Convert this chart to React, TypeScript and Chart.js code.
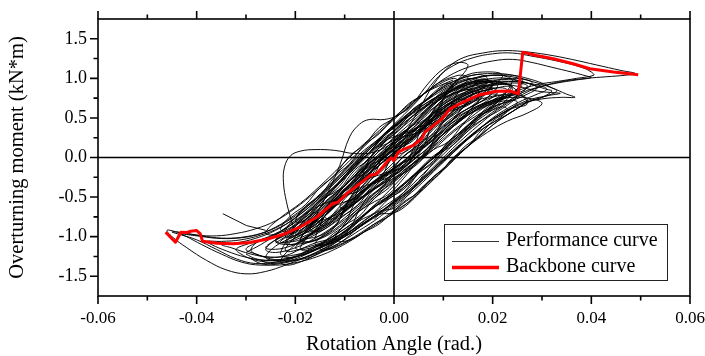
import { useEffect, useRef } from 'react';
import { Chart, registerables } from 'chart.js';

Chart.register(...registerables);

const FONT = '"Liberation Serif", "Times New Roman", serif';

// Axis ticks
const xTicks = [-0.06, -0.04, -0.02, 0, 0.02, 0.04, 0.06];
const xMinorTicks = [-0.05, -0.03, -0.01, 0.01, 0.03, 0.05];
const yTicks = [-1.5, -1.0, -0.5, 0, 0.5, 1.0, 1.5];
const yMinorTicks = [-1.25, -0.75, -0.25, 0.25, 0.75, 1.25];

// Backbone curve (rotation rad., moment kN*m)
const backboneRotation = [-0.0463, -0.0443, -0.0432, -0.042, -0.0412, -0.04, -0.0393, -0.0388, -0.0359, -0.0326, -0.0292, -0.0258, -0.0225, -0.0191, -0.0157, -0.0124, -0.0114, -0.0096, -0.0065, -0.0049, -0.0035, -0.0022, -0.0012, -0.0005, -0.0001, 0.0009, 0.0022, 0.0039, 0.0056, 0.0063, 0.0076, 0.0097, 0.0114, 0.014, 0.0174, 0.0208, 0.0235, 0.0252, 0.0261, 0.0289, 0.0323, 0.0363, 0.0397, 0.0445, 0.0495];
const backboneMoment = [-0.944, -1.071, -0.944, -0.948, -0.932, -0.923, -0.961, -1.058, -1.083, -1.091, -1.075, -1.033, -0.973, -0.881, -0.755, -0.581, -0.565, -0.459, -0.31, -0.228, -0.206, -0.114, -0.038, -0.004, -0.038, 0.067, 0.11, 0.152, 0.237, 0.32, 0.383, 0.489, 0.616, 0.701, 0.794, 0.836, 0.84, 0.806, 1.331, 1.289, 1.247, 1.184, 1.122, 1.08, 1.047];

// Performance curve: hysteresis loops [rotation, moment]
const perfLoopsA = [
  [0.0, 0.0], [0.004, 0.26], [0.008, 0.52], [0.011, 0.68], [0.0125, 0.66],
  [0.01, 0.46], [0.006, 0.18], [0.002, -0.04], [-0.002, -0.22], [-0.006, -0.42], [-0.009, -0.6], [-0.0105, -0.66],
  [-0.008, -0.44], [-0.004, -0.12], [0.0, 0.12], [0.004, 0.32], [0.008, 0.58], [0.012, 0.78], [0.015, 0.86], [0.016, 0.82],
  [0.013, 0.56], [0.009, 0.3], [0.005, 0.08], [0.001, -0.14], [-0.003, -0.34], [-0.007, -0.52], [-0.011, -0.72], [-0.014, -0.86], [-0.015, -0.84],
  [-0.012, -0.58], [-0.008, -0.28], [-0.004, 0.02], [0.0, 0.24], [0.004, 0.42], [0.008, 0.66], [0.012, 0.86], [0.016, 0.96], [0.019, 0.98], [0.02, 0.94],
  [0.017, 0.7], [0.013, 0.46], [0.009, 0.2], [0.005, -0.02], [0.001, -0.24], [-0.003, -0.44], [-0.007, -0.64], [-0.011, -0.86], [-0.015, -1.02], [-0.018, -1.08], [-0.019, -1.04],
  [-0.016, -0.78], [-0.012, -0.5], [-0.008, -0.2], [-0.004, 0.06], [0.0, 0.3], [0.004, 0.5], [0.008, 0.72], [0.012, 0.9], [0.016, 1.0], [0.02, 1.04], [0.023, 1.02], [0.024, 0.96],
  [0.021, 0.7], [0.017, 0.5], [0.013, 0.3], [0.009, 0.06], [0.005, -0.16], [0.001, -0.38], [-0.003, -0.58], [-0.007, -0.78], [-0.011, -0.98], [-0.015, -1.14], [-0.019, -1.24], [-0.022, -1.26], [-0.023, -1.2],
  [-0.02, -0.92], [-0.016, -0.66], [-0.012, -0.38], [-0.008, -0.1], [-0.004, 0.16], [0.0, 0.38], [0.004, 0.58], [0.008, 0.8], [0.012, 0.96], [0.016, 1.04], [0.02, 1.06], [0.024, 1.04], [0.026, 0.98],
  [0.023, 0.74], [0.019, 0.56], [0.015, 0.38], [0.011, 0.16], [0.007, -0.06], [0.003, -0.28], [-0.001, -0.48], [-0.005, -0.68], [-0.009, -0.88], [-0.013, -1.06], [-0.017, -1.2], [-0.021, -1.3], [-0.025, -1.34], [-0.027, -1.3],
];

const perfLoopsNarrow = [
  [-0.02, -0.98], [-0.017, -0.82], [-0.013, -0.6], [-0.009, -0.36], [-0.005, -0.14], [-0.001, 0.06], [0.003, 0.22], [0.007, 0.44], [0.011, 0.64], [0.015, 0.78], [0.019, 0.86], [0.022, 0.88], [0.023, 0.84],
  [0.02, 0.7], [0.016, 0.58], [0.012, 0.42], [0.008, 0.22], [0.004, 0.02], [0.0, -0.14], [-0.004, -0.32], [-0.008, -0.5], [-0.012, -0.7], [-0.016, -0.88], [-0.02, -1.02], [-0.023, -1.08], [-0.024, -1.04],
  [-0.021, -0.9], [-0.017, -0.74], [-0.013, -0.52], [-0.009, -0.3], [-0.005, -0.1], [-0.001, 0.1], [0.003, 0.28], [0.007, 0.5], [0.011, 0.68], [0.015, 0.8], [0.019, 0.88], [0.0205, 0.86],
  [0.018, 0.72], [0.014, 0.58], [0.01, 0.38], [0.006, 0.16], [0.002, -0.04], [-0.002, -0.22], [-0.006, -0.4], [-0.01, -0.62], [-0.014, -0.82], [-0.017, -0.94], [-0.018, -0.92],
  [-0.015, -0.76], [-0.011, -0.52], [-0.007, -0.28], [-0.003, -0.06], [0.001, 0.14], [0.005, 0.32], [0.009, 0.56], [0.013, 0.74], [0.017, 0.86], [0.021, 0.92], [0.025, 0.94], [0.027, 0.9],
  [0.024, 0.74], [0.02, 0.64], [0.016, 0.5], [0.012, 0.32], [0.008, 0.1], [0.004, -0.1], [0.0, -0.28], [-0.004, -0.46], [-0.008, -0.66], [-0.012, -0.86], [-0.016, -1.02], [-0.02, -1.14], [-0.024, -1.2], [-0.026, -1.16],
  [-0.023, -1.0], [-0.019, -0.86], [-0.015, -0.66], [-0.011, -0.42], [-0.007, -0.18], [-0.003, 0.04], [0.001, 0.22], [0.005, 0.4], [0.009, 0.62], [0.013, 0.78], [0.017, 0.88], [0.021, 0.92], [0.024, 0.9],
  [0.021, 0.76], [0.017, 0.62], [0.013, 0.44], [0.009, 0.24], [0.005, 0.02], [0.001, -0.18], [-0.003, -0.36], [-0.007, -0.54], [-0.011, -0.74], [-0.015, -0.92], [-0.019, -1.04], [-0.021, -1.06],
  [-0.018, -0.94], [-0.014, -0.74], [-0.01, -0.5], [-0.006, -0.26], [-0.002, -0.04], [0.002, 0.16], [0.006, 0.36], [0.01, 0.58], [0.014, 0.74], [0.018, 0.84], [0.02, 0.86],
];

const perfLoopsLower = [
  [-0.012, -0.98], [-0.009, -0.86], [-0.005, -0.66], [-0.001, -0.42], [0.003, -0.16], [0.007, 0.1], [0.011, 0.36], [0.015, 0.56], [0.019, 0.7], [0.023, 0.78], [0.026, 0.78], [0.027, 0.72],
  [0.024, 0.58], [0.02, 0.44], [0.016, 0.28], [0.012, 0.06], [0.008, -0.16], [0.004, -0.38], [0.0, -0.56], [-0.004, -0.74], [-0.008, -0.92], [-0.012, -1.06], [-0.015, -1.12], [-0.016, -1.08],
  [-0.013, -0.92], [-0.009, -0.74], [-0.005, -0.52], [-0.001, -0.28], [0.003, -0.04], [0.007, 0.22], [0.011, 0.46], [0.015, 0.62], [0.019, 0.74], [0.023, 0.8], [0.025, 0.78],
  [0.022, 0.62], [0.018, 0.48], [0.014, 0.32], [0.01, 0.1], [0.006, -0.12], [0.002, -0.34], [-0.002, -0.54], [-0.006, -0.72], [-0.01, -0.9], [-0.014, -1.06], [-0.018, -1.16], [-0.02, -1.14],
  [-0.017, -0.98], [-0.013, -0.8], [-0.009, -0.58], [-0.005, -0.36], [-0.001, -0.12], [0.003, 0.12], [0.007, 0.34], [0.011, 0.54], [0.015, 0.68], [0.019, 0.76], [0.022, 0.78],
  [0.019, 0.6], [0.015, 0.4], [0.011, 0.14], [0.007, -0.14], [0.003, -0.46], [0.0, -0.64], [-0.003, -0.68], [-0.007, -0.84], [-0.011, -1.04], [-0.015, -1.2], [-0.019, -1.32], [-0.022, -1.36], [-0.023, -1.3],
  [-0.02, -1.1], [-0.016, -0.92], [-0.012, -0.72], [-0.008, -0.5], [-0.004, -0.3], [0.0, -0.1], [0.004, 0.12], [0.008, 0.3], [0.012, 0.48], [0.016, 0.62], [0.02, 0.72], [0.024, 0.76], [0.028, 0.74], [0.03, 0.68],
  [0.027, 0.56], [0.023, 0.46], [0.019, 0.32], [0.015, 0.14], [0.011, -0.08], [0.007, -0.32], [0.003, -0.58], [0.0, -0.7], [-0.003, -0.72], [-0.007, -0.88], [-0.011, -1.08], [-0.014, -1.16], [-0.015, -1.1],
];

const perfLoopsUpper = [
  [0.012, 0.98], [0.01, 0.92], [0.006, 0.7], [0.002, 0.46], [-0.002, 0.22], [-0.006, 0.0], [-0.01, -0.26], [-0.014, -0.52], [-0.018, -0.76], [-0.022, -0.92], [-0.025, -0.98], [-0.026, -0.94],
  [-0.023, -0.76], [-0.019, -0.58], [-0.015, -0.36], [-0.011, -0.12], [-0.007, 0.12], [-0.003, 0.34], [0.001, 0.56], [0.005, 0.76], [0.009, 0.92], [0.012, 1.0], [0.013, 0.96],
  [0.01, 0.8], [0.006, 0.58], [0.002, 0.36], [-0.002, 0.14], [-0.006, -0.1], [-0.01, -0.36], [-0.014, -0.62], [-0.018, -0.84], [-0.021, -0.96], [-0.022, -0.92],
  [-0.019, -0.7], [-0.015, -0.48], [-0.011, -0.22], [-0.007, 0.04], [-0.003, 0.24], [0.001, 0.46], [0.005, 0.66], [0.009, 0.84], [0.013, 0.96], [0.016, 1.0], [0.017, 0.96],
  [0.014, 0.8], [0.01, 0.62], [0.006, 0.4], [0.002, 0.18], [-0.002, -0.04], [-0.006, -0.26], [-0.01, -0.5], [-0.014, -0.74], [-0.016, -0.86], [-0.017, -0.88],
  [-0.014, -0.52], [-0.011, -0.1], [-0.009, 0.26], [-0.007, 0.42], [-0.005, 0.48], [-0.002, 0.48], [0.001, 0.54], [0.004, 0.7], [0.007, 0.94], [0.01, 1.12], [0.013, 1.2], [0.015, 1.16],
  [0.012, 0.92], [0.008, 0.66], [0.004, 0.42], [0.0, 0.2], [-0.004, 0.07], [-0.008, 0.05], [-0.012, 0.09], [-0.016, 0.1], [-0.019, 0.08], [-0.021, 0.02], [-0.0222, -0.12], [-0.0224, -0.32], [-0.0218, -0.56], [-0.0208, -0.8], [-0.0202, -0.94], [-0.021, -1.02],
  [-0.018, -0.9], [-0.014, -0.66], [-0.01, -0.4], [-0.006, -0.14], [-0.002, 0.1], [0.002, 0.32], [0.006, 0.56], [0.01, 0.78], [0.014, 0.92], [0.018, 0.98], [0.02, 0.96],
];

const perfLoopsLarge = [
  [-0.018, -0.95], [-0.014, -0.74], [-0.01, -0.48], [-0.006, -0.22], [-0.002, 0.04], [0.002, 0.3], [0.005, 0.6], [0.008, 0.92], [0.011, 1.14], [0.014, 1.26], [0.018, 1.32], [0.022, 1.35], [0.026, 1.34], [0.031, 1.3], [0.036, 1.24], [0.041, 1.17], [0.046, 1.1], [0.049, 1.06],
  [0.047, 1.04], [0.043, 1.02], [0.039, 1.0], [0.034, 0.96], [0.03, 0.9], [0.026, 0.82], [0.022, 0.66], [0.018, 0.48], [0.014, 0.28], [0.01, 0.04], [0.006, -0.2], [0.002, -0.44], [-0.002, -0.62], [-0.006, -0.8], [-0.01, -0.98], [-0.014, -1.14], [-0.018, -1.26], [-0.022, -1.36], [-0.026, -1.44], [-0.03, -1.47], [-0.034, -1.42], [-0.038, -1.3], [-0.042, -1.14], [-0.045, -1.0], [-0.046, -0.92],
  [-0.044, -0.94], [-0.04, -0.98], [-0.036, -0.99], [-0.032, -0.96], [-0.028, -0.9], [-0.024, -0.8], [-0.02, -0.64], [-0.016, -0.44], [-0.012, -0.22], [-0.008, 0.02], [-0.004, 0.26], [0.0, 0.48], [0.004, 0.7], [0.008, 0.9], [0.012, 1.06], [0.016, 1.16], [0.02, 1.22], [0.024, 1.24], [0.028, 1.2], [0.032, 1.14], [0.036, 1.08], [0.039, 1.03], [0.04, 1.01],
  [0.037, 0.98], [0.033, 0.94], [0.029, 0.88], [0.025, 0.76], [0.021, 0.6], [0.017, 0.4], [0.013, 0.18], [0.009, -0.06], [0.005, -0.3], [0.001, -0.52], [-0.003, -0.7], [-0.007, -0.88], [-0.011, -1.04], [-0.015, -1.18], [-0.019, -1.28], [-0.023, -1.34], [-0.027, -1.36], [-0.031, -1.32], [-0.035, -1.22], [-0.039, -1.1], [-0.042, -1.0], [-0.043, -0.97],
  [-0.04, -0.99], [-0.036, -1.02], [-0.032, -1.02], [-0.028, -0.98], [-0.024, -0.88], [-0.02, -0.72], [-0.016, -0.52], [-0.012, -0.28], [-0.008, -0.04], [-0.004, 0.18], [0.0, 0.4], [0.004, 0.6], [0.008, 0.78], [0.012, 0.92], [0.016, 1.0], [0.02, 1.04], [0.024, 1.02], [0.028, 0.96], [0.032, 0.88], [0.035, 0.8], [0.0367, 0.76],
  [0.034, 0.76], [0.03, 0.74], [0.026, 0.68], [0.022, 0.56], [0.018, 0.4], [0.014, 0.2], [0.01, -0.02], [0.006, -0.26], [0.002, -0.5], [-0.002, -0.68], [-0.006, -0.84], [-0.01, -1.0], [-0.014, -1.12], [-0.018, -1.22], [-0.022, -1.28], [-0.026, -1.3], [-0.03, -1.26], [-0.034, -1.18], [-0.037, -1.1], [-0.038, -1.06],
  [-0.035, -1.06], [-0.031, -1.04], [-0.027, -0.98], [-0.023, -0.88], [-0.019, -0.72], [-0.015, -0.5], [-0.011, -0.26], [-0.007, -0.02], [-0.003, 0.22], [0.001, 0.44], [0.005, 0.62], [0.009, 0.78], [0.013, 0.88], [0.017, 0.94], [0.021, 0.94], [0.025, 0.9], [0.029, 0.84], [0.032, 0.82], [0.0337, 0.81],
  [0.031, 0.78], [0.027, 0.72], [0.023, 0.6], [0.019, 0.44], [0.015, 0.24], [0.011, 0.02], [0.007, -0.22], [0.003, -0.44], [-0.001, -0.62], [-0.005, -0.78], [-0.009, -0.94], [-0.013, -1.08], [-0.017, -1.18], [-0.021, -1.24], [-0.025, -1.26], [-0.029, -1.22], [-0.033, -1.14], [-0.035, -1.1],
  [-0.032, -1.08], [-0.028, -1.02], [-0.024, -0.92], [-0.02, -0.76], [-0.016, -0.56], [-0.012, -0.32], [-0.008, -0.08], [-0.004, 0.16], [0.0, 0.38], [0.004, 0.58], [0.008, 0.74], [0.012, 0.86], [0.016, 0.94], [0.02, 0.96], [0.023, 0.92], [0.025, 0.84], [0.027, 0.68],
  [0.024, 0.62], [0.02, 0.48], [0.016, 0.3], [0.012, 0.08], [0.008, -0.14], [0.004, -0.36], [0.0, -0.56], [-0.004, -0.74], [-0.008, -0.9], [-0.012, -1.04], [-0.016, -1.16], [-0.02, -1.26], [-0.024, -1.32], [-0.028, -1.34], [-0.032, -1.28], [-0.036, -1.16], [-0.04, -1.04], [-0.043, -0.98], [-0.045, -0.94],
  [-0.042, -0.96], [-0.038, -1.0], [-0.034, -1.02], [-0.03, -1.0], [-0.026, -0.94], [-0.022, -0.82], [-0.018, -0.64], [-0.014, -0.42], [-0.01, -0.18], [-0.006, 0.06], [-0.002, 0.3], [0.002, 0.54], [0.006, 0.8], [0.009, 1.02], [0.012, 1.16], [0.016, 1.26], [0.02, 1.31], [0.024, 1.32], [0.028, 1.28], [0.033, 1.22], [0.038, 1.14], [0.04, 1.08], [0.0405, 1.04],
  [0.037, 1.0], [0.033, 0.96], [0.029, 0.92], [0.025, 0.84], [0.021, 0.7], [0.017, 0.52], [0.013, 0.3], [0.009, 0.06], [0.005, -0.18], [0.001, -0.4], [-0.003, -0.6],
];

const perfLoopsSmall1 = [
  [-0.008, -0.52], [-0.005, -0.3], [-0.002, -0.14], [0.001, 0.1], [0.004, 0.22], [0.007, 0.44], [0.01, 0.58], [0.012, 0.66], [0.013, 0.62],
  [0.011, 0.5], [0.008, 0.36], [0.005, 0.14], [0.002, 0.02], [-0.001, -0.18], [-0.004, -0.3], [-0.007, -0.5], [-0.01, -0.64], [-0.011, -0.62],
  [-0.009, -0.46], [-0.006, -0.34], [-0.003, -0.1], [0.0, 0.04], [0.003, 0.26], [0.006, 0.36], [0.009, 0.56], [0.012, 0.7], [0.014, 0.74], [0.015, 0.7],
  [0.013, 0.58], [0.01, 0.44], [0.007, 0.2], [0.004, 0.08], [0.001, -0.12], [-0.002, -0.26], [-0.005, -0.42], [-0.008, -0.58], [-0.011, -0.72], [-0.013, -0.78], [-0.014, -0.74],
  [-0.012, -0.6], [-0.009, -0.42], [-0.006, -0.3], [-0.003, -0.06], [0.0, 0.1], [0.003, 0.3], [0.006, 0.42], [0.009, 0.62], [0.012, 0.74], [0.015, 0.82], [0.017, 0.84], [0.018, 0.8],
  [0.016, 0.66], [0.013, 0.54], [0.01, 0.34], [0.007, 0.22], [0.004, 0.0], [0.001, -0.1], [-0.002, -0.32], [-0.005, -0.44], [-0.008, -0.64], [-0.011, -0.76], [-0.014, -0.9], [-0.016, -0.94], [-0.017, -0.9],
  [-0.015, -0.74], [-0.012, -0.58], [-0.009, -0.34], [-0.006, -0.2], [-0.003, 0.02], [0.0, 0.16], [0.003, 0.36], [0.006, 0.5], [0.009, 0.68], [0.012, 0.8], [0.015, 0.88], [0.018, 0.94], [0.02, 0.94], [0.021, 0.9],
  [0.019, 0.76], [0.016, 0.64], [0.013, 0.44], [0.01, 0.3], [0.007, 0.08], [0.004, -0.06], [0.001, -0.26], [-0.002, -0.4], [-0.005, -0.58], [-0.008, -0.72], [-0.011, -0.88], [-0.014, -1.0], [-0.017, -1.06], [-0.019, -1.04],
  [-0.017, -0.88], [-0.014, -0.7], [-0.011, -0.48], [-0.008, -0.32], [-0.005, -0.08], [-0.002, 0.06], [0.001, 0.26], [0.004, 0.38], [0.007, 0.58], [0.01, 0.7], [0.013, 0.84], [0.016, 0.9], [0.018, 0.92],
];

const perfLoopsSmall2 = [
  [0.004, 0.62], [0.001, 0.44], [-0.002, 0.3], [-0.005, 0.06], [-0.008, -0.1], [-0.011, -0.36], [-0.014, -0.52], [-0.017, -0.74], [-0.019, -0.82], [-0.02, -0.8],
  [-0.018, -0.62], [-0.015, -0.48], [-0.012, -0.24], [-0.009, -0.08], [-0.006, 0.16], [-0.003, 0.3], [0.0, 0.5], [0.003, 0.62], [0.006, 0.8], [0.009, 0.9], [0.011, 0.94], [0.012, 0.9],
  [0.01, 0.76], [0.007, 0.64], [0.004, 0.42], [0.001, 0.28], [-0.002, 0.06], [-0.005, -0.08], [-0.008, -0.3], [-0.011, -0.46], [-0.014, -0.66], [-0.017, -0.8], [-0.02, -0.92], [-0.022, -0.94], [-0.023, -0.9],
  [-0.021, -0.74], [-0.018, -0.6], [-0.015, -0.38], [-0.012, -0.22], [-0.009, 0.02], [-0.006, 0.16], [-0.003, 0.38], [0.0, 0.5], [0.003, 0.68], [0.006, 0.8], [0.009, 0.94], [0.012, 1.02], [0.014, 1.04], [0.015, 1.0],
  [0.013, 0.86], [0.01, 0.74], [0.007, 0.52], [0.004, 0.38], [0.001, 0.16], [-0.002, 0.02], [-0.005, -0.2], [-0.008, -0.36], [-0.011, -0.56], [-0.014, -0.7], [-0.017, -0.88], [-0.02, -0.98], [-0.022, -1.0],
  [-0.02, -0.84], [-0.017, -0.7], [-0.014, -0.48], [-0.011, -0.32], [-0.008, -0.08], [-0.005, 0.06], [-0.002, 0.28], [0.001, 0.42], [0.004, 0.62], [0.007, 0.74], [0.01, 0.9], [0.013, 0.98], [0.016, 1.04], [0.018, 1.04], [0.019, 0.98],
  [0.017, 0.84], [0.014, 0.72], [0.011, 0.52], [0.008, 0.38], [0.005, 0.16], [0.002, 0.02], [-0.001, -0.2], [-0.004, -0.34], [-0.007, -0.54], [-0.01, -0.66], [-0.013, -0.84], [-0.016, -0.94], [-0.019, -1.06], [-0.021, -1.1], [-0.022, -1.06],
  [-0.02, -0.92], [-0.017, -0.78], [-0.014, -0.56], [-0.011, -0.4], [-0.008, -0.16], [-0.005, -0.02], [-0.002, 0.2], [0.001, 0.34], [0.004, 0.54], [0.007, 0.68], [0.01, 0.84], [0.012, 0.9],
];

const perfLoopsSmall3 = [
  [-0.004, -0.78], [-0.001, -0.6], [0.002, -0.44], [0.005, -0.2], [0.008, -0.04], [0.011, 0.2], [0.014, 0.34], [0.017, 0.52], [0.02, 0.6], [0.022, 0.64], [0.023, 0.6],
  [0.021, 0.48], [0.018, 0.36], [0.015, 0.14], [0.012, 0.0], [0.009, -0.22], [0.006, -0.36], [0.003, -0.56], [0.0, -0.68], [-0.003, -0.84], [-0.006, -0.94], [-0.009, -1.04], [-0.011, -1.06], [-0.012, -1.02],
  [-0.01, -0.86], [-0.007, -0.74], [-0.004, -0.52], [-0.001, -0.38], [0.002, -0.16], [0.005, -0.02], [0.008, 0.2], [0.011, 0.34], [0.014, 0.5], [0.017, 0.6], [0.02, 0.68], [0.023, 0.72], [0.025, 0.7],
  [0.023, 0.58], [0.02, 0.46], [0.017, 0.26], [0.014, 0.12], [0.011, -0.1], [0.008, -0.24], [0.005, -0.44], [0.002, -0.56], [-0.001, -0.74], [-0.004, -0.84], [-0.007, -0.98], [-0.01, -1.08], [-0.013, -1.16], [-0.015, -1.16],
  [-0.013, -1.0], [-0.01, -0.86], [-0.007, -0.66], [-0.004, -0.5], [-0.001, -0.28], [0.002, -0.14], [0.005, 0.08], [0.008, 0.22], [0.011, 0.4], [0.014, 0.52], [0.017, 0.64], [0.02, 0.72], [0.022, 0.74],
  [0.02, 0.62], [0.017, 0.5], [0.014, 0.3], [0.011, 0.16], [0.008, -0.06], [0.005, -0.2], [0.002, -0.4], [-0.001, -0.52], [-0.004, -0.7], [-0.007, -0.8], [-0.01, -0.94], [-0.013, -1.04], [-0.016, -1.14], [-0.018, -1.18], [-0.019, -1.14],
  [-0.017, -0.98], [-0.014, -0.84], [-0.011, -0.62], [-0.008, -0.48], [-0.005, -0.26], [-0.002, -0.12], [0.001, 0.1], [0.004, 0.24], [0.007, 0.42], [0.01, 0.54], [0.013, 0.66], [0.016, 0.74], [0.019, 0.8], [0.021, 0.8],
];

const perfLoopsSmall4 = [
  [-0.024, -1.08], [-0.021, -0.96], [-0.018, -0.84], [-0.015, -0.7], [-0.012, -0.52], [-0.009, -0.38], [-0.006, -0.2], [-0.003, -0.06], [0.0, 0.1], [0.003, 0.22], [0.006, 0.38], [0.009, 0.52], [0.012, 0.66], [0.015, 0.76], [0.018, 0.84], [0.021, 0.88], [0.023, 0.9], [0.024, 0.86],
  [0.022, 0.76], [0.019, 0.68], [0.016, 0.58], [0.013, 0.44], [0.01, 0.3], [0.007, 0.12], [0.004, -0.02], [0.001, -0.16], [-0.002, -0.3], [-0.005, -0.44], [-0.008, -0.58], [-0.011, -0.72], [-0.014, -0.86], [-0.017, -0.96], [-0.02, -1.04], [-0.022, -1.08], [-0.023, -1.06],
  [-0.021, -0.98], [-0.018, -0.88], [-0.015, -0.74], [-0.012, -0.56], [-0.009, -0.42], [-0.006, -0.24], [-0.003, -0.1], [0.0, 0.06], [0.003, 0.2], [0.006, 0.34], [0.009, 0.48], [0.012, 0.62], [0.015, 0.72], [0.018, 0.8], [0.02, 0.84], [0.021, 0.82],
  [0.019, 0.72], [0.016, 0.62], [0.013, 0.5], [0.01, 0.34], [0.007, 0.18], [0.004, 0.04], [0.001, -0.1], [-0.002, -0.24], [-0.005, -0.38], [-0.008, -0.54], [-0.011, -0.68], [-0.014, -0.8], [-0.017, -0.92], [-0.019, -0.98], [-0.02, -0.96],
  [-0.018, -0.84], [-0.015, -0.7], [-0.012, -0.5], [-0.009, -0.34], [-0.006, -0.16], [-0.003, -0.02], [0.0, 0.14], [0.003, 0.28], [0.006, 0.44], [0.009, 0.58], [0.012, 0.7], [0.015, 0.8], [0.018, 0.88], [0.021, 0.94], [0.024, 0.96], [0.026, 0.94],
  [0.024, 0.82], [0.021, 0.72], [0.018, 0.62], [0.015, 0.48], [0.012, 0.34], [0.009, 0.18], [0.006, 0.02], [0.003, -0.12], [0.0, -0.26], [-0.003, -0.4], [-0.006, -0.54], [-0.009, -0.68], [-0.012, -0.82], [-0.015, -0.94], [-0.018, -1.04], [-0.021, -1.12], [-0.024, -1.16], [-0.026, -1.14],
  [-0.024, -1.04], [-0.021, -0.94], [-0.018, -0.8], [-0.015, -0.64], [-0.012, -0.46], [-0.009, -0.3], [-0.006, -0.12], [-0.003, 0.02], [0.0, 0.18], [0.003, 0.3], [0.006, 0.46], [0.009, 0.6], [0.012, 0.72], [0.015, 0.82], [0.018, 0.9], [0.021, 0.94], [0.023, 0.94],
];

const perfLoopsOuter = [
  [-0.03, -1.2], [-0.027, -1.1], [-0.024, -0.98], [-0.021, -0.84], [-0.018, -0.7], [-0.015, -0.52], [-0.012, -0.36], [-0.009, -0.16], [-0.006, 0.0], [-0.003, 0.2], [0.0, 0.34], [0.003, 0.52], [0.006, 0.64], [0.009, 0.78], [0.012, 0.88], [0.015, 0.96], [0.018, 1.02], [0.021, 1.04], [0.024, 1.04], [0.027, 1.0], [0.03, 0.94], [0.032, 0.88], [0.033, 0.84],
  [0.031, 0.78], [0.028, 0.72], [0.025, 0.62], [0.022, 0.5], [0.019, 0.36], [0.016, 0.2], [0.013, 0.04], [0.01, -0.14], [0.007, -0.3], [0.004, -0.48], [0.001, -0.62], [-0.002, -0.76], [-0.005, -0.88], [-0.008, -1.0], [-0.011, -1.1], [-0.014, -1.18], [-0.017, -1.26], [-0.02, -1.3], [-0.023, -1.32], [-0.026, -1.32], [-0.029, -1.28], [-0.031, -1.22], [-0.032, -1.16],
  [-0.03, -1.1], [-0.027, -1.04], [-0.024, -0.96], [-0.021, -0.86], [-0.018, -0.72], [-0.015, -0.56], [-0.012, -0.38], [-0.009, -0.2], [-0.006, -0.02], [-0.003, 0.16], [0.0, 0.32], [0.003, 0.48], [0.006, 0.62], [0.009, 0.74], [0.012, 0.84], [0.015, 0.9], [0.018, 0.94], [0.021, 0.96], [0.024, 0.96], [0.027, 0.94], [0.03, 0.9], [0.031, 0.86],
  [0.029, 0.8], [0.026, 0.72], [0.023, 0.62], [0.02, 0.5], [0.017, 0.34], [0.014, 0.18], [0.011, 0.0], [0.008, -0.18], [0.005, -0.36], [0.002, -0.52], [-0.001, -0.66], [-0.004, -0.8], [-0.007, -0.92], [-0.01, -1.04], [-0.013, -1.14], [-0.016, -1.22], [-0.019, -1.28], [-0.022, -1.3], [-0.025, -1.28], [-0.028, -1.22], [-0.03, -1.16],
  [-0.028, -1.08], [-0.025, -1.0], [-0.022, -0.9], [-0.019, -0.76], [-0.016, -0.6], [-0.013, -0.42], [-0.01, -0.24], [-0.007, -0.06], [-0.004, 0.12], [-0.001, 0.28], [0.002, 0.44], [0.005, 0.58], [0.008, 0.72], [0.011, 0.82], [0.014, 0.9], [0.017, 0.96], [0.02, 1.0], [0.023, 1.0], [0.026, 0.96], [0.029, 0.9], [0.031, 0.86], [0.032, 0.84],
  [0.03, 0.76], [0.027, 0.7], [0.024, 0.58], [0.021, 0.46], [0.018, 0.3], [0.015, 0.14], [0.012, -0.04], [0.009, -0.22], [0.006, -0.4], [0.003, -0.56], [0.0, -0.7], [-0.003, -0.82], [-0.006, -0.94], [-0.009, -1.06], [-0.012, -1.16], [-0.015, -1.24], [-0.018, -1.3], [-0.021, -1.34], [-0.024, -1.36], [-0.027, -1.34], [-0.029, -1.28],
];

const perfLoopsBulb = [
  [-0.016, -1.02], [-0.015, -0.86], [-0.013, -0.66], [-0.01, -0.56], [-0.006, -0.48], [-0.003, -0.3], [-0.001, -0.05], [0.001, 0.2], [0.004, 0.36], [0.008, 0.44], [0.011, 0.6], [0.013, 0.82], [0.016, 0.96], [0.019, 0.98],
  [0.017, 0.8], [0.014, 0.66], [0.01, 0.58], [0.006, 0.4], [0.004, 0.12], [0.002, -0.1], [-0.002, -0.2], [-0.006, -0.3], [-0.009, -0.52], [-0.011, -0.78], [-0.014, -0.96], [-0.018, -1.02],
  [-0.016, -0.92], [-0.014, -0.7], [-0.011, -0.5], [-0.007, -0.42], [-0.004, -0.22], [-0.002, 0.05], [0.001, 0.24], [0.005, 0.32], [0.008, 0.5], [0.01, 0.74], [0.013, 0.9], [0.017, 0.96], [0.02, 0.92],
  [0.017, 0.74], [0.013, 0.62], [0.009, 0.52], [0.006, 0.3], [0.004, 0.02], [0.001, -0.18], [-0.003, -0.3], [-0.007, -0.4], [-0.01, -0.64], [-0.012, -0.88], [-0.016, -1.04], [-0.021, -1.1], [-0.024, -1.06],
  [-0.021, -0.94], [-0.018, -0.72], [-0.014, -0.58], [-0.01, -0.5], [-0.007, -0.3], [-0.005, -0.02], [-0.002, 0.2], [0.002, 0.3], [0.006, 0.38], [0.009, 0.6], [0.011, 0.86], [0.014, 1.02], [0.018, 1.08], [0.022, 1.04],
  [0.019, 0.86], [0.016, 0.72], [0.012, 0.64], [0.008, 0.44], [0.006, 0.14], [0.003, -0.08], [-0.001, -0.2], [-0.005, -0.34], [-0.008, -0.58], [-0.01, -0.84], [-0.013, -1.02], [-0.018, -1.14], [-0.022, -1.18],
  [-0.02, -1.0], [-0.017, -0.84], [-0.013, -0.76], [-0.009, -0.62], [-0.007, -0.36], [-0.005, -0.12], [-0.001, 0.0], [0.003, 0.1], [0.006, 0.32], [0.008, 0.6], [0.011, 0.78], [0.015, 0.86], [0.019, 0.9],
  [0.016, 0.7], [0.012, 0.56], [0.009, 0.36], [0.007, 0.08], [0.004, -0.12], [0.0, -0.26], [-0.004, -0.4], [-0.007, -0.66], [-0.009, -0.9], [-0.012, -1.06], [-0.016, -1.12],
];

const perfLoopsMid = [
  [0.026, 0.9], [0.023, 0.76], [0.02, 0.7], [0.017, 0.62], [0.014, 0.42], [0.011, 0.2], [0.008, 0.1], [0.005, -0.04], [0.002, -0.26], [-0.001, -0.46], [-0.004, -0.56], [-0.007, -0.68], [-0.01, -0.86], [-0.013, -1.02], [-0.016, -1.08], [-0.019, -1.16], [-0.022, -1.24], [-0.025, -1.26], [-0.028, -1.22], [-0.029, -1.16],
  [-0.027, -1.04], [-0.024, -1.0], [-0.021, -0.92], [-0.018, -0.74], [-0.015, -0.54], [-0.012, -0.44], [-0.009, -0.3], [-0.006, -0.08], [-0.003, 0.12], [0.0, 0.22], [0.003, 0.36], [0.006, 0.56], [0.009, 0.72], [0.012, 0.8], [0.015, 0.88], [0.018, 0.96], [0.021, 0.98], [0.024, 0.98], [0.027, 0.94], [0.029, 0.88],
  [0.027, 0.8], [0.024, 0.72], [0.021, 0.66], [0.018, 0.54], [0.015, 0.34], [0.012, 0.16], [0.009, 0.04], [0.006, -0.12], [0.003, -0.32], [0.0, -0.46], [-0.003, -0.56], [-0.006, -0.72], [-0.009, -0.9], [-0.012, -1.02], [-0.015, -1.1], [-0.018, -1.2], [-0.021, -1.28], [-0.024, -1.3], [-0.026, -1.26],
  [-0.024, -1.12], [-0.021, -1.02], [-0.018, -0.92], [-0.015, -0.74], [-0.012, -0.56], [-0.009, -0.46], [-0.006, -0.28], [-0.003, -0.06], [0.0, 0.12], [0.003, 0.24], [0.006, 0.42], [0.009, 0.62], [0.012, 0.76], [0.015, 0.84], [0.018, 0.92], [0.021, 0.98], [0.024, 1.0], [0.027, 0.98], [0.028, 0.94],
  [0.026, 0.84], [0.023, 0.76], [0.02, 0.68], [0.017, 0.52], [0.014, 0.3], [0.011, 0.14], [0.008, 0.02], [0.005, -0.16], [0.002, -0.38], [-0.001, -0.52], [-0.004, -0.62], [-0.007, -0.8], [-0.01, -0.96], [-0.013, -1.06], [-0.016, -1.12], [-0.019, -1.22], [-0.022, -1.28], [-0.025, -1.3], [-0.028, -1.28], [-0.03, -1.22],
];

const perfSpike = [[-0.0347, -0.71], [-0.0299, -0.86], [-0.026, -0.92]];

const toPoints = (pairs: number[][]) => pairs.map(([x, y]) => ({ x, y }));

const framePlugin = {
  id: 'frameAndLegend',
  beforeDatasetsDraw(chart: any) {
    const { ctx, chartArea: a, scales } = chart;
    const x0 = scales.x.getPixelForValue(0);
    const y0 = scales.y.getPixelForValue(0);
    ctx.save();
    ctx.strokeStyle = '#000';
    ctx.lineWidth = 1.6;
    ctx.beginPath();
    ctx.moveTo(x0, a.top);
    ctx.lineTo(x0, a.bottom);
    ctx.moveTo(a.left, y0);
    ctx.lineTo(a.right, y0);
    ctx.stroke();
    ctx.restore();
  },
  afterDraw(chart: any) {
    const { ctx, chartArea: a, scales } = chart;
    const xs = scales.x;
    const ys = scales.y;
    ctx.save();
    ctx.strokeStyle = '#000';
    ctx.lineWidth = 1.6;
    ctx.strokeRect(a.left, a.top, a.right - a.left, a.bottom - a.top);
    ctx.beginPath();
    const tick = (vals: number[], len: number) => {
      vals.forEach((v) => {
        const px = xs.getPixelForValue(v);
        ctx.moveTo(px, a.bottom);
        ctx.lineTo(px, a.bottom + len);
        ctx.moveTo(px, a.top);
        ctx.lineTo(px, a.top - len);
      });
    };
    tick(xTicks, 8);
    tick(xMinorTicks, 4.5);
    const ytick = (vals: number[], len: number) => {
      vals.forEach((v) => {
        const py = ys.getPixelForValue(v);
        ctx.moveTo(a.left, py);
        ctx.lineTo(a.left - len, py);
      });
    };
    ytick(yTicks, 8);
    ytick(yMinorTicks, 4.5);
    ctx.stroke();

    // legend
    const lx = a.right - 246;
    const ly = a.bottom - 72;
    const lw = 223;
    const lh = 56;
    ctx.fillStyle = '#fff';
    ctx.fillRect(lx, ly, lw, lh);
    ctx.strokeStyle = '#222';
    ctx.lineWidth = 1;
    ctx.strokeRect(lx + 0.5, ly + 0.5, lw, lh);
    ctx.beginPath();
    ctx.strokeStyle = '#333';
    ctx.lineWidth = 1;
    ctx.moveTo(lx + 8, ly + 17.5);
    ctx.lineTo(lx + 55, ly + 17.5);
    ctx.stroke();
    ctx.beginPath();
    ctx.strokeStyle = '#ff0000';
    ctx.lineWidth = 3.5;
    ctx.moveTo(lx + 8, ly + 43.5);
    ctx.lineTo(lx + 55, ly + 43.5);
    ctx.stroke();
    ctx.fillStyle = '#000';
    ctx.font = '20px ' + FONT;
    ctx.textBaseline = 'middle';
    ctx.textAlign = 'left';
    ctx.fillText('Performance curve', lx + 62, ly + 17);
    ctx.fillText('Backbone curve', lx + 62, ly + 43);
    ctx.restore();
  },
};

export default function App() {
  const ref = useRef<HTMLCanvasElement>(null);
  useEffect(() => {
    const canvas = ref.current;
    if (!canvas) return;
    const perfGroups = [
      perfLoopsA, perfLoopsNarrow, perfLoopsLower, perfLoopsUpper, perfLoopsLarge,
      perfLoopsSmall1, perfLoopsSmall2, perfLoopsSmall3, perfLoopsSmall4, perfLoopsOuter,
      perfLoopsBulb, perfLoopsMid,
    ];
    const datasets: any[] = [
      {
        label: 'Backbone curve',
        data: backboneRotation.map((x, i) => ({ x, y: backboneMoment[i] })),
        borderColor: '#ff0000',
        borderWidth: 3,
        showLine: true,
        pointRadius: 0,
        tension: 0,
        borderJoinStyle: 'round',
        order: 0,
      },
      ...perfGroups.map((g) => ({
        label: 'Performance curve',
        data: toPoints(g),
        borderColor: '#000',
        borderWidth: 0.95,
        showLine: true,
        pointRadius: 0,
        tension: 0.4,
        order: 1,
      })),
      {
        label: 'Performance curve',
        data: toPoints(perfSpike),
        borderColor: '#000',
        borderWidth: 0.95,
        showLine: true,
        pointRadius: 0,
        tension: 0,
        order: 1,
      },
    ];
    const chart = new Chart(canvas, {
      type: 'scatter',
      data: { datasets },
      options: {
        animation: false,
        responsive: false,
        devicePixelRatio: 1,
        layout: { padding: { top: 19, right: 15, left: 0, bottom: 0 } },
        plugins: { legend: { display: false }, tooltip: { enabled: false } },
        scales: {
          x: {
            type: 'linear',
            min: -0.06,
            max: 0.06,
            afterBuildTicks: (s: any) => {
              s.ticks = xTicks.map((v) => ({ value: v }));
            },
            afterFit: (s: any) => {
              s.height = 60;
              s.paddingLeft = 0;
              s.paddingRight = 0;
            },
            ticks: {
              autoSkip: false,
              maxRotation: 0,
              padding: 12,
              color: '#000',
              font: { family: FONT, size: 17 },
              callback: (v: any) => Number(v).toFixed(2),
            },
            grid: { display: false, drawTicks: false },
            border: { display: false },
            title: {
              display: true,
              text: 'Rotation Angle (rad.)',
              color: '#000',
              font: { family: FONT, size: 20.5, lineHeight: 1.1 },
              padding: { top: 0, bottom: 0 },
            },
          },
          y: {
            type: 'linear',
            min: -1.75,
            max: 1.75,
            afterBuildTicks: (s: any) => {
              s.ticks = yTicks.map((v) => ({ value: v }));
            },
            afterFit: (s: any) => {
              s.width = 98;
              s.paddingTop = 0;
              s.paddingBottom = 0;
            },
            ticks: {
              autoSkip: false,
              padding: 11,
              color: '#000',
              font: { family: FONT, size: 18 },
              callback: (v: any) => Number(v).toFixed(1),
            },
            grid: { display: false, drawTicks: false },
            border: { display: false },
            title: {
              display: true,
              text: 'Overturning moment (kN*m)',
              color: '#000',
              font: { family: FONT, size: 20.5, lineHeight: 1.2 },
              padding: { top: 5, bottom: 0 },
            },
          },
        },
      },
      plugins: [framePlugin],
    } as any);
    return () => chart.destroy();
  }, []);
  return (
    <div style={{ position: 'fixed', left: 0, top: 0, width: 705, height: 356, background: '#fff' }}>
      <canvas ref={ref} width={705} height={356} style={{ display: 'block' }} />
    </div>
  );
}
